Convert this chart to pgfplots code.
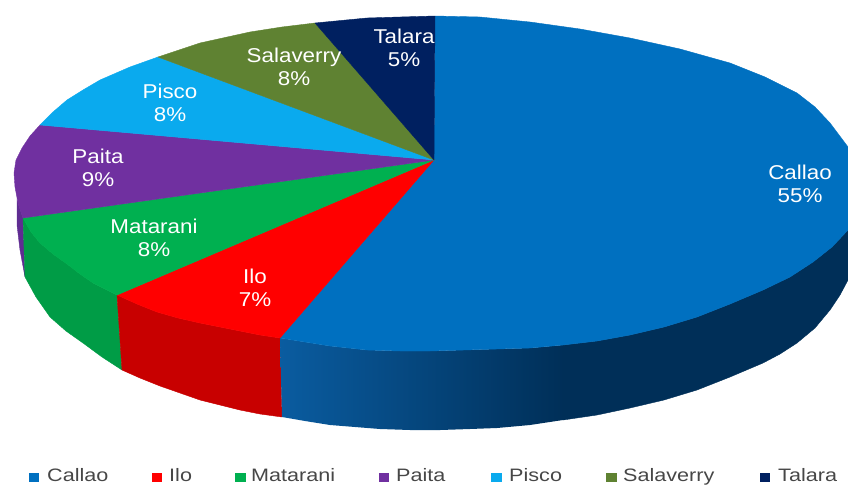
\documentclass[border=0pt]{standalone}
\usepackage{fontspec}
\setmainfont{Liberation Sans}
\newfontfamily\labfont[FakeStretch=1.12]{Liberation Sans}
\newfontfamily\legfont[FakeStretch=1.2]{Liberation Sans}
\usepackage{pgfplots}
\pgfplotsset{compat=1.18}
\definecolor{cCal}{HTML}{0070C0}
\definecolor{cIlo}{HTML}{FF0000}
\definecolor{cMat}{HTML}{00B050}
\definecolor{cPai}{HTML}{7030A0}
\definecolor{cPis}{HTML}{0AAAEE}
\definecolor{cSal}{HTML}{5F8232}
\definecolor{cTal}{HTML}{002060}
\definecolor{sCalL}{HTML}{0A5CA0}
\definecolor{sCalR}{HTML}{002F58}
\definecolor{sIlo}{HTML}{C80000}
\definecolor{sMat}{HTML}{009C46}
\definecolor{sPai}{HTML}{5F2C92}
\newcommand{\lab}[3]{\node[text=white,align=center,font=\labfont\fontsize{20}{23}\selectfont,inner sep=0pt] at (axis cs:#1,#2) {#3};}
\newcommand{\leg}[5]{\fill[#4] (axis cs:#1,473) rectangle (axis cs:#2,482);\node[anchor=base west,inner sep=0pt,text=black!72,font=\legfont\fontsize{18}{20}\selectfont] at (axis cs:#3,481.5) {#5};}
\begin{document}
\begin{tikzpicture}
\useasboundingbox (0,0) rectangle (848pt,485pt);
\begin{axis}[at={(0,0)},anchor=south west,scale only axis,width=848pt,height=485pt,
  xmin=0,xmax=848,ymin=0,ymax=485,y dir=reverse,axis lines=none,clip=true,
  every axis plot/.append style={no markers,line width=0.4pt}]
% side faces
\addplot[fill=sPai,draw=sPai] coordinates {(17,200)(23,218)(25,277)(20,250)(17,225)} --cycle;
\addplot[fill=sMat,draw=sMat] coordinates {(23,218)(31,232)(40,243)(53,254)(67,264)(80,274)(93,283)(105,289)(117,295)(122,370)(102,357)(83,343)(66,331)(50,317)(36,297)(25,277)} --cycle;
\addplot[fill=sIlo,draw=sIlo] coordinates {(117,295)(137,304)(157,312)(178,318)(200,323)(220,327)(240,331)(260,335)(280,338)(282,417)(260,414)(240,410)(220,405)(200,400)(180,393)(160,386)(140,378)(122,370)} --cycle;
\addplot[left color=sCalL,right color=sCalR,draw=none] coordinates {(280,338)(305,342)(330,346)(367,350)(400,351)(430,351)(464,350)(497,349)(530,348)(563,345)(563,420)(530,425)(497,428)(470,429)(440,430)(410,430)(380,429)(355,427)(330,425)(305,421)(282,417)} --cycle;
\addplot[fill=sCalR,draw=sCalR] coordinates {(563,345)(597,341)(630,335)(664,327)(697,317)(730,304)(763,290)(790,277)(813,262)(832,247)(848,230)(848,280)(840,295)(830,310)(815,328)(797,343)(780,354)(763,363)(730,377)(697,390)(664,400)(630,408)(597,415)(563,420)} --cycle;
% top faces
\addplot[fill=cCal,draw=cCal] coordinates {(434,160)(435,16)(480,17)(530,22)(580,29)(630,38)(680,49)(730,63)(765,77)(797,93)(815,107)(830,123)(848,147)(848,230)(832,247)(813,262)(790,277)(763,290)(730,304)(697,317)(664,327)(630,335)(597,341)(563,345)(530,348)(497,349)(464,350)(430,351)(400,351)(367,350)(330,346)(305,342)(280,338)} --cycle;
\addplot[fill=cIlo,draw=cIlo] coordinates {(434,160)(280,338)(260,335)(240,331)(220,327)(200,323)(178,318)(157,312)(137,304)(117,295)} --cycle;
\addplot[fill=cMat,draw=cMat] coordinates {(434,160)(117,295)(105,289)(93,283)(80,274)(67,264)(53,254)(40,243)(31,232)(23,218)} --cycle;
\addplot[fill=cPai,draw=cPai] coordinates {(434,160)(23,218)(18,203)(15,187)(14,173)(16,160)(22,148)(30,136)(40,125)} --cycle;
\addplot[fill=cPis,draw=cPis] coordinates {(434,160)(40,125)(53,112)(67,100)(83,90)(100,80)(130,67)(158,57)} --cycle;
\addplot[fill=cSal,draw=cSal] coordinates {(434,160)(158,57)(200,43)(250,32)(282,27)(315,23)} --cycle;
\addplot[fill=cTal,draw=cTal] coordinates {(434,160)(315,23)(367,18)(400,17)(435,16)} --cycle;
% data labels
\lab{800}{184}{Callao\\55\%}
\lab{255}{288}{Ilo\\7\%}
\lab{154}{238}{Matarani\\8\%}
\lab{98}{168}{Paita\\9\%}
\lab{170}{103}{Pisco\\8\%}
\lab{294}{67}{Salaverry\\8\%}
\lab{404}{48}{Talara\\5\%}
% legend
\leg{29}{39}{47}{cCal}{Callao}
\leg{152}{162}{169}{cIlo}{Ilo}
\leg{235}{246}{251}{cMat}{Matarani}
\leg{379}{389}{396}{cPai}{Paita}
\leg{491}{502}{509}{cPis}{Pisco}
\leg{606}{617}{623}{cSal}{Salaverry}
\leg{760}{770}{778}{cTal}{Talara}
\end{axis}
\end{tikzpicture}
\end{document}
